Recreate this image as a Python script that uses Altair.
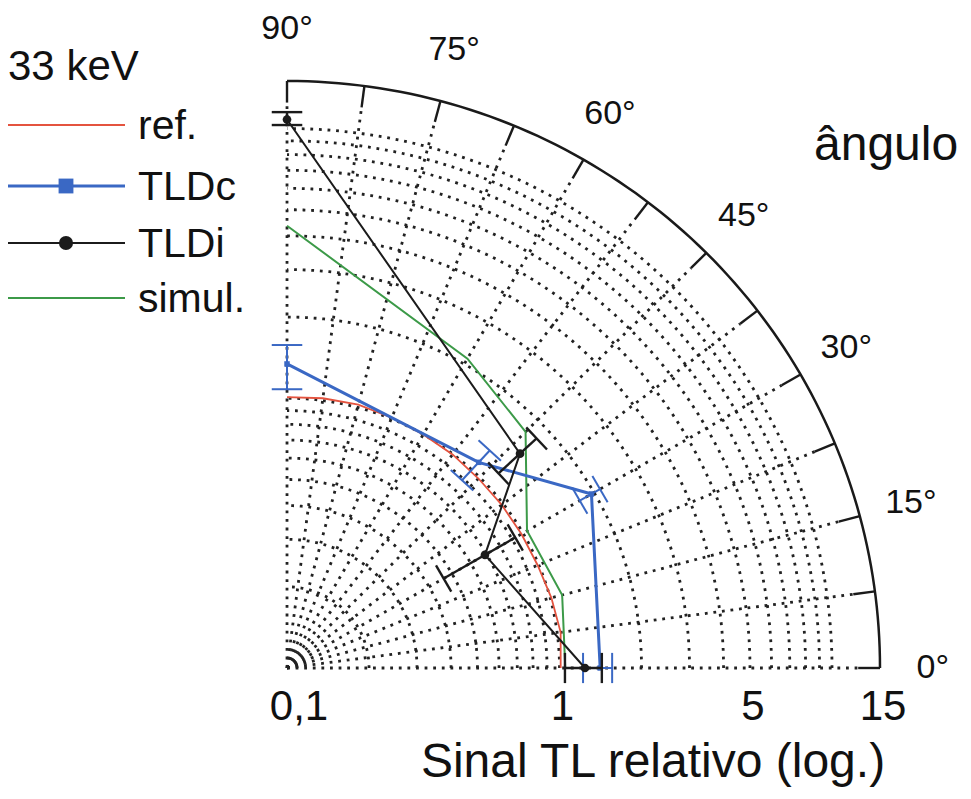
import altair as alt
import pandas as pd

# ---------------- grid definition ----------------
grid_angles = [0, 7.5, 15, 22.5, 30, 37.5, 45, 52.5, 60, 67.5, 75, 82.5, 90]
grid_values = [0.2, 0.3, 0.4, 0.5, 0.6, 0.7, 0.8, 0.9, 1, 2, 3, 4, 5, 6, 7, 8, 9, 10]
arc_steps = list(range(0, 91))
outer_value = 15
angle_label_angles = [0, 15, 30, 45, 60, 75, 90]
angle_label_texts = ["0°", "15°", "30°", "45°", "60°", "75°", "90°"]
x_tick_values = [1, 5, 15]
x_tick_texts = ["1", "5", "15"]
min_tick_value = [0.1]
min_tick_text = ["0,1"]

# ---------------- data (angle in degrees, relative TL signal) ----------------
ref_angle = [0, 7.5, 15, 22.5, 30, 37.5, 45, 52.5, 60, 67.5, 75, 82.5, 90]
ref_value = [1.01, 1.03, 1.01, 0.99, 0.985, 0.985, 0.985, 0.995, 1.0, 1.01, 1.025, 1.02, 1.01]

simul_angle = [90, 60, 45, 30, 15, 0]
simul_value = [4.36, 2.11, 1.73, 1.04, 1.11, 1.05]

tldc_angle = [90, 47.3, 30, 0]
tldc_value = [1.34, 1.09, 1.95, 1.41]
tldc_low = [1.08, 0.885, 1.74, 1.22]
tldc_high = [1.575, 1.25, 2.12, 1.56]

tldi_angle = [90, 42.9, 30, 0]
tldi_value = [10.8, 1.47, 0.69, 1.24]
tldi_low = [10.3, 1.147, 0.461, 1.047]
tldi_high = [11.5, 1.78, 0.927, 1.43]

series_names = ["ref.", "TLDc", "TLDi", "simul."]
series_colors = ["#e4533f", "#3a68c4", "#1b1b1b", "#3c9a48"]

# ---------------- helpers ----------------
W, H = 955, 783
xs = alt.Scale(domain=[-1.0239, 2.4807], nice=False, zero=False)
ys = alt.Scale(domain=[-0.4560, 2.4467], nice=False, zero=False)
R_EXPR = "log(datum.v)/LN10 + 1"
C_EXPR = "cos(datum.a*PI/180)"
S_EXPR = "sin(datum.a*PI/180)"
CAP = 0.056
TICK = 0.08
FONT = "Liberation Sans"
DOT = [2.8, 5.8]
DOT_W = 2.8
DOT_C = "#222222"


def X(f):
    return alt.X(f, type="quantitative", scale=xs, axis=None)


def Y(f):
    return alt.Y(f, type="quantitative", scale=ys, axis=None)


def polar_line(angles, values, color, width, dash=None):
    df = pd.DataFrame({"a": angles, "v": values, "i": list(range(len(angles)))})
    kw = dict(color=color, strokeWidth=width, clip=False)
    if dash:
        kw["strokeDash"] = dash
    return alt.Chart(df).transform_calculate(
        r=R_EXPR, px=f"datum.r*{C_EXPR}", py=f"datum.r*{S_EXPR}"
    ).mark_line(**kw).encode(x=X("px"), y=Y("py"), order="i:Q")


def error_bars(angles, lo, hi, color, width):
    df = pd.DataFrame({"a": angles, "lo": lo, "hi": hi})
    bar = alt.Chart(df).transform_calculate(
        c=C_EXPR, s=S_EXPR,
        r1="log(datum.lo)/LN10 + 1", r2="log(datum.hi)/LN10 + 1",
        bx1="datum.r1*datum.c", by1="datum.r1*datum.s",
        bx2="datum.r2*datum.c", by2="datum.r2*datum.s",
    ).mark_rule(color=color, strokeWidth=width).encode(
        x=X("bx1"), y=Y("by1"), x2="bx2:Q", y2="by2:Q")
    caps = alt.Chart(df).transform_fold(["lo", "hi"], as_=["end", "ev"]).transform_calculate(
        c=C_EXPR, s=S_EXPR, r="log(datum.ev)/LN10 + 1",
        cx1=f"datum.r*datum.c - {CAP}*datum.s", cy1=f"datum.r*datum.s + {CAP}*datum.c",
        cx2=f"datum.r*datum.c + {CAP}*datum.s", cy2=f"datum.r*datum.s - {CAP}*datum.c",
    ).mark_rule(color=color, strokeWidth=width).encode(
        x=X("cx1"), y=Y("cy1"), x2="cx2:Q", y2="cy2:Q")
    return bar + caps


def polar_points(angles, values, color, shape, size):
    df = pd.DataFrame({"a": angles, "v": values})
    return alt.Chart(df).transform_calculate(
        r=R_EXPR, px=f"datum.r*{C_EXPR}", py=f"datum.r*{S_EXPR}"
    ).mark_point(filled=True, color=color, shape=shape, size=size, opacity=1).encode(
        x=X("px"), y=Y("py"))


layers = []

# dotted circles
circ_df = pd.DataFrame([{"v": g, "a": a} for g in grid_values for a in arc_steps])
layers.append(
    alt.Chart(circ_df).transform_calculate(
        r=R_EXPR, px=f"datum.r*{C_EXPR}", py=f"datum.r*{S_EXPR}"
    ).mark_line(color=DOT_C, strokeWidth=DOT_W, strokeDash=DOT).encode(
        x=X("px"), y=Y("py"), detail="v:Q", order="a:Q")
)

# dotted radial lines
rad_df = pd.DataFrame({"a": grid_angles, "v": [outer_value] * len(grid_angles)})
layers.append(
    alt.Chart(rad_df).transform_calculate(
        r=R_EXPR, c=C_EXPR, s=S_EXPR,
        ox="0*datum.c", oy="0*datum.s",
        ex=f"(datum.r-{TICK})*datum.c", ey=f"(datum.r-{TICK})*datum.s",
    ).mark_rule(color=DOT_C, strokeWidth=DOT_W, strokeDash=DOT).encode(
        x=X("ox"), y=Y("oy"), x2="ex:Q", y2="ey:Q")
)
# solid ticks on outer arc
layers.append(
    alt.Chart(rad_df).transform_calculate(
        r=R_EXPR, c=C_EXPR, s=S_EXPR,
        ox=f"(datum.r-{TICK})*datum.c", oy=f"(datum.r-{TICK})*datum.s",
        ex="datum.r*datum.c", ey="datum.r*datum.s",
    ).mark_rule(color="#1a1a1a", strokeWidth=2.4).encode(
        x=X("ox"), y=Y("oy"), x2="ex:Q", y2="ey:Q")
)
# outer arc
layers.append(polar_line(arc_steps, [outer_value] * len(arc_steps), "#1a1a1a", 2.5))

# data series
layers.append(polar_line(ref_angle, ref_value, series_colors[0], 1.8))
layers.append(polar_line(simul_angle, simul_value, series_colors[3], 2.0))
layers.append(polar_line(tldc_angle, tldc_value, series_colors[1], 3.0))
layers.append(error_bars(tldc_angle, tldc_low, tldc_high, series_colors[1], 2.0))
layers.append(polar_points(tldc_angle, tldc_value, series_colors[1], "square", 30))
layers.append(polar_line(tldi_angle, tldi_value, series_colors[2], 2.0))
layers.append(error_bars(tldi_angle, tldi_low, tldi_high, series_colors[2], 2.4))
layers.append(polar_points(tldi_angle, tldi_value, series_colors[2], "circle", 75))

# angle labels
ang_df = pd.DataFrame({"a": angle_label_angles, "t": angle_label_texts})
layers.append(
    alt.Chart(ang_df).transform_calculate(
        px=f"2.37*{C_EXPR}", py=f"2.37*{S_EXPR}"
    ).mark_text(font=FONT, fontSize=34, color="#111", align="center", baseline="middle").encode(
        x=X("px"), y=Y("py"), text="t:N")
)

# radial (log) tick labels
tick_df = pd.DataFrame({"v": x_tick_values, "t": x_tick_texts})
layers.append(
    alt.Chart(tick_df).transform_calculate(px=R_EXPR).mark_text(
        font=FONT, fontSize=42, color="#111", align="center", baseline="alphabetic", dx=3
    ).encode(x=X("px"), y=alt.value(712), text="t:N")
)
min_df = pd.DataFrame({"v": min_tick_value, "t": min_tick_text})
layers.append(
    alt.Chart(min_df).transform_calculate(px=R_EXPR).mark_text(
        font=FONT, fontSize=42, color="#111", align="center", baseline="alphabetic", dx=12
    ).encode(x=X("px"), y=alt.value(712), text="t:N")
)

# titles
layers.append(
    alt.Chart(pd.DataFrame({"t": ["Sinal TL relativo (log.)"]})).mark_text(
        font=FONT, fontSize=48, color="#111", align="center", baseline="alphabetic"
    ).encode(x=alt.value(645), y=alt.value(769), text="t:N")
)
layers.append(
    alt.Chart(pd.DataFrame({"t": ["ângulo"]})).mark_text(
        font=FONT, fontSize=48, color="#111", align="left", baseline="alphabetic"
    ).encode(x=alt.value(806), y=alt.value(152), text="t:N")
)
layers.append(
    alt.Chart(pd.DataFrame({"t": ["33 keV"]})).mark_text(
        font=FONT, fontSize=42, color="#111", align="left", baseline="alphabetic"
    ).encode(x=alt.value(0), y=alt.value(72), text="t:N")
)

# legend
legend_y = [117, 178, 235, 290]
legend_marker = [None, "square", "circle", None]
legend_marker_size = [0, 220, 200, 0]
for k, name in enumerate(series_names):
    d = pd.DataFrame({"t": [name]})
    yy = legend_y[k]
    layers.append(
        alt.Chart(d).mark_rule(color=series_colors[k], strokeWidth=3.0 if k == 1 else 2.0).encode(
            x=alt.value(0), x2=alt.value(117), y=alt.value(yy))
    )
    if legend_marker[k]:
        layers.append(
            alt.Chart(d).mark_point(filled=True, shape=legend_marker[k], size=legend_marker_size[k],
                                    color=series_colors[k], opacity=1).encode(
                x=alt.value(58), y=alt.value(yy))
        )
    layers.append(
        alt.Chart(d).mark_text(font=FONT, fontSize=41, color="#111", align="left",
                               baseline="alphabetic").encode(
            x=alt.value(130), y=alt.value(yy + 14), text="t:N")
    )

chart = alt.layer(*layers).properties(
    width=W, height=H, padding=0, autosize="none", background="white"
).configure_view(stroke=None)

chart.save("out.html", embed_options={"renderer": "svg", "actions": False})
